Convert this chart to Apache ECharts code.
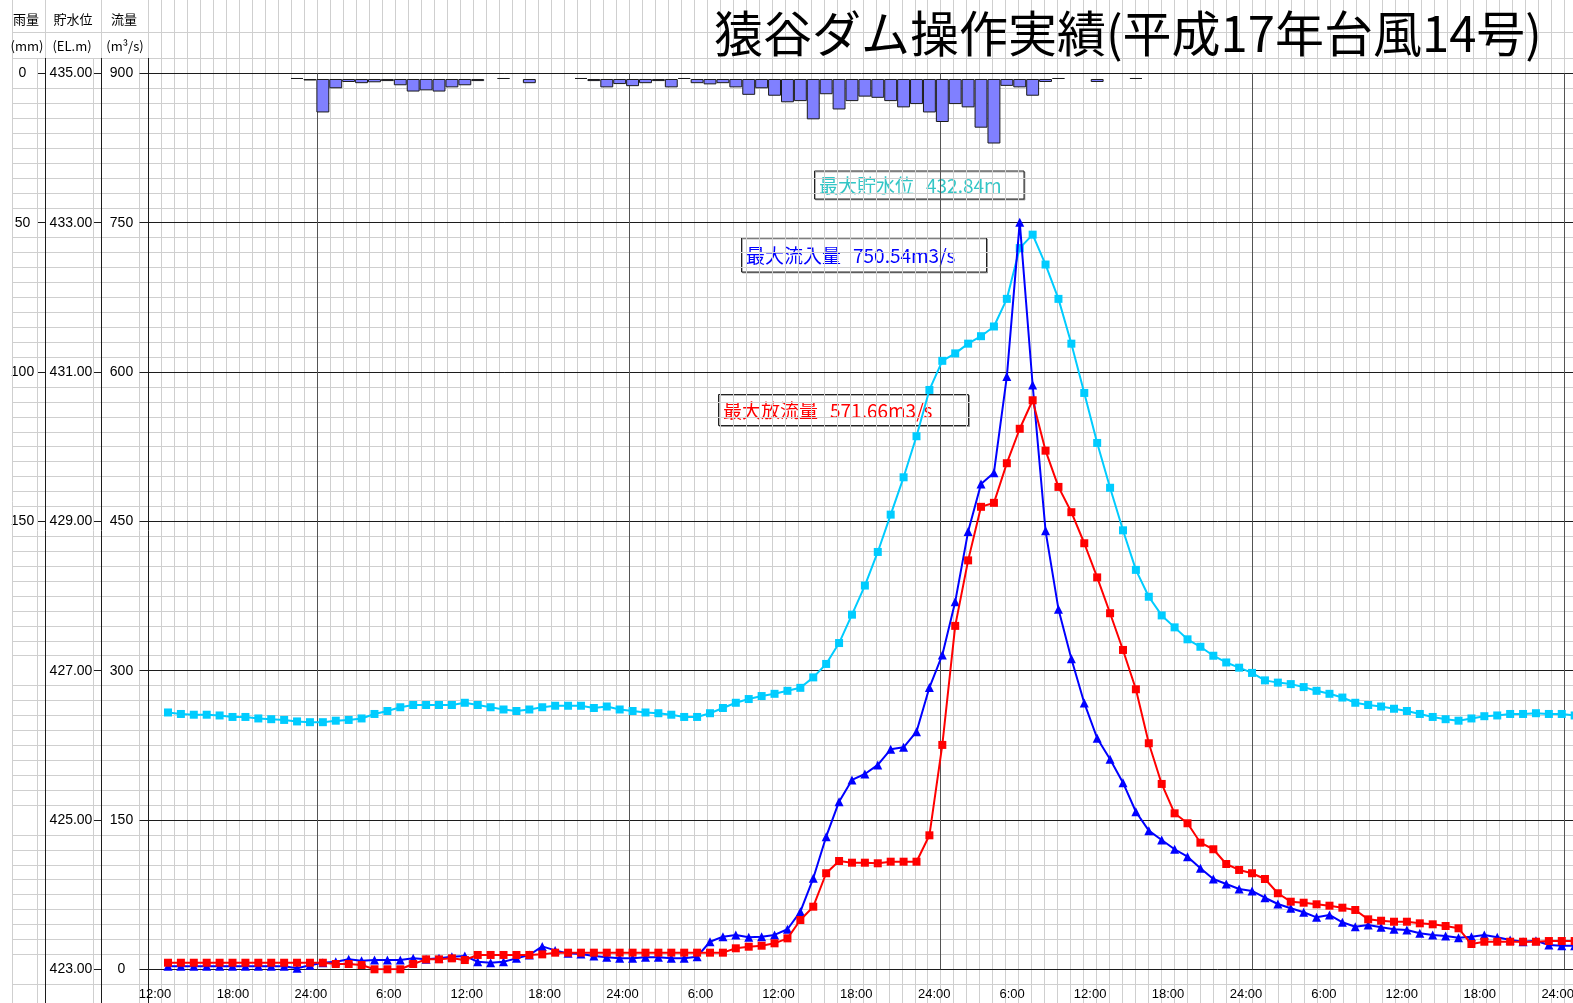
<!DOCTYPE html>
<html>
<head>
<meta charset="utf-8">
<script src="https://cdn.jsdelivr.net/npm/echarts@6/dist/echarts.min.js"></script>
<style>
  html, body { margin: 0; padding: 0; background: #fff; }
  #chart { width: 1573px; height: 1003px; }
</style>
</head>
<body>
<div id="chart"></div>
<script>
// Hourly records, hours counted from 0:00 of day 1 (first reading 13:00 on day 1)
const firstHour = 13;

// 貯水位 (EL.m)
const waterLevel = [
  426.44, 426.42, 426.41, 426.41, 426.40, 426.38, 426.38, 426.36, 426.35, 426.34,
  426.32, 426.31, 426.31, 426.33, 426.34, 426.36, 426.42, 426.46, 426.51, 426.54,
  426.54, 426.54, 426.54, 426.57, 426.54, 426.51, 426.48, 426.46, 426.48, 426.51,
  426.53, 426.53, 426.53, 426.50, 426.52, 426.48, 426.46, 426.44, 426.43, 426.41,
  426.38, 426.38, 426.43, 426.50, 426.57, 426.62, 426.66, 426.69, 426.73, 426.77,
  426.91, 427.09, 427.37, 427.75, 428.14, 428.59, 429.09, 429.59, 430.14, 430.76,
  431.15, 431.25, 431.38, 431.48, 431.61, 431.98, 432.66, 432.84, 432.44, 431.98,
  431.38, 430.72, 430.05, 429.45, 428.88, 428.35, 427.99, 427.74, 427.58, 427.42,
  427.32, 427.20, 427.11, 427.04, 426.97, 426.87, 426.84, 426.82, 426.78, 426.73,
  426.69, 426.64, 426.57, 426.54, 426.52, 426.49, 426.46, 426.42, 426.38, 426.35,
  426.33, 426.36, 426.39, 426.40, 426.42, 426.42, 426.43, 426.42, 426.42, 426.40
];

// 流入量 (m3/s)
const inflow = [
  3, 3, 3, 3, 3, 3, 3, 3, 3, 3,
  1, 4, 6.6, 7.6, 10, 8.6, 9.3, 9.3, 9.3, 11,
  10, 11, 12.7, 13.4, 7.6, 6.6, 7.6, 11, 14.4, 23,
  19, 16, 15.4, 13.4, 12, 11, 11, 12, 12, 11,
  11, 12.7, 27.7, 32.8, 34.5, 32.2, 32.8, 34.5, 40.2, 57.9,
  91.4, 133.2, 168.4, 190.2, 196.2, 205.3, 221, 223, 238.7, 283,
  315.8, 369.3, 439.7, 487.6, 498.9, 595.4, 750.54, 587, 440.5, 361.8,
  312, 267.6, 232.1, 211, 187.5, 158.3, 139.3, 129.9, 120.6, 113.1,
  101.5, 90.7, 85.7, 80.7, 78.7, 71.9, 65.6, 61.3, 57.3, 52.2,
  54.6, 47.2, 42.8, 44.5, 42.2, 40.2, 39.5, 36.2, 34.5, 33.5,
  31.7, 32.8, 34.5, 32.2, 29.4, 27.7, 28.7, 24.4, 23.7, 23.7
];

// 放流量 (m3/s)
const outflow = [
  6.6, 6.6, 6.6, 6.6, 6.6, 6.6, 6.6, 6.6, 6.6, 6.6,
  6.6, 6.6, 6.6, 5.3, 5.3, 4.3, 0, 0, 0, 5.3,
  10, 10, 11, 9.3, 14.4, 14.4, 14.4, 14.4, 14.4, 15,
  16.7, 16.7, 16.7, 16.7, 16.7, 16.7, 16.7, 16.7, 16.7, 16.7,
  16.7, 16.7, 16.7, 16.7, 21.1, 22.7, 23.7, 26.1, 31.1, 49.5,
  62.9, 96.5, 108.8, 107.1, 107.1, 106.5, 108.1, 108.1, 108.1, 134.6,
  225.4, 345, 410.8, 464.6, 468.6, 508.4, 543, 571.66, 521, 484.6,
  459.2, 428, 393.7, 357.7, 320.8, 281.3, 227.1, 186.2, 156.7, 146.7,
  127.2, 120.6, 105.8, 99.8, 96.5, 90.7, 76.4, 67.9, 66.9, 65.3,
  63.9, 61.9, 59.6, 50.2, 48.8, 47.8, 47.8, 46.2, 45.2, 43.5,
  41.2, 25.4, 27.7, 27.7, 27.7, 27.7, 27.7, 28.4, 28.4, 28.4
];

// 雨量 (mm per hour), first value for the hour ending 23:00 on day 1
const rainFirstHour = 23;
const rainfall = [
  0, 0.5, 11.2, 3.1, 1.0, 1.4, 1.1, 0.7, 2.1, 4.2,
  3.8, 4.2, 2.8, 2.1, 0.7, null, 0, null, 1.4, null,
  null, null, 0, 0.7, 2.8, 1.7, 2.4, 1.4, 0.7, 2.8,
  0, 1.4, 1.8, 1.4, 2.8, 5.3, 3.1, 5.6, 7.8, 7.4,
  13.5, 5.1, 10.2, 7.4, 5.9, 6.3, 7.4, 9.5, 8.4, 11.2,
  14.4, 8.4, 9.5, 16.3, 21.6, 2.3, 2.8, 5.6, 1.0, 0,
  null, null, 1.0, null, null, 0
];

// Hour cells of the chart paper; cell 0 is the hour ending 12:00 on day 1
const cellCount = 110;
const firstCellHour = 12;
const hourCells = Array.from({ length: cellCount }, (_, i) => {
  const hh = (firstCellHour + i) % 24;
  return (hh === 0 ? 24 : hh) + ':00';
});
const shownTimeLabels = ['6:00', '12:00', '18:00', '24:00'];

// Layout
const W = 1573, H = 1003;
const plotLeft = 148.5, plotTop = 73.4, plotBottom = 969.3;
const cellW = 12.9875;
const gridRight = W - plotLeft - cellCount * cellW;
const pxPerFlow = (plotBottom - plotTop) / 900;
const rowStep = 15 * pxPerFlow;
const timeMin = 11.49, timeMax = 122.19;        // hours at the plot edges for the readings
const rainBaseOffset = 1.875;                    // rain bars hang just below the top frame

const light = '#cfcfcf';
const dark = '#1c1c1c';
const dayLine = '#555555';
const cyan = '#00ccff';
const blue = '#0000ff';
const red = '#ff0000';
const none = 'rgba(0,0,0,0)';

const rowColors = Array.from({ length: 10 }, (_, i) => (i === 1 ? none : light));
const dayColors = Array.from({ length: 24 }, (_, i) => (i === 13 ? dayLine : none));

const numFont = '"Liberation Sans", Arial, sans-serif';
const jpFont = '"Noto Sans CJK JP", sans-serif';

const maxLevel = Math.max(...waterLevel);
const maxIn = Math.max(...inflow);
const maxOut = Math.max(...outflow);

function seg(x1, y1, x2, y2, color) {
  return {
    type: 'line', z: 1, silent: true,
    shape: { x1, y1, x2, y2 },
    style: { stroke: color, lineWidth: 1 }
  };
}
function txt(text, x, y, font, color, align) {
  return {
    type: 'text', z: 10, silent: true,
    style: {
      text, x, y, font, fill: color,
      textAlign: align || 'center', align: align || 'center',
      textVerticalAlign: 'middle', verticalAlign: 'middle'
    }
  };
}
function noteText(text, x, y, color) {
  return { type: 'text', style: { text, x, y, font: '19px ' + jpFont, fill: color,
                                  textAlign: 'left', align: 'left',
                                  textVerticalAlign: 'middle', verticalAlign: 'middle' } };
}
function box(x, y, w, h, title, value, color) {
  return {
    type: 'group', z: 20, silent: true,
    children: [
      { type: 'rect', shape: { x, y, width: w, height: h },
        style: { fill: '#fff', stroke: '#222', lineWidth: 1,
                 shadowColor: 'rgba(0,0,0,0.3)', shadowOffsetX: 1, shadowOffsetY: 1 } },
      noteText(title, x + 4.5, y + h / 2 + 0.5, color),
      noteText(value, x + 111.5, y + h / 2 + 0.5, color)
    ]
  };
}

const axisLabelStyle = { color: '#000', fontSize: 14, fontFamily: numFont };

const option = {
  animation: false,
  backgroundColor: '#fff',
  grid: [
    { left: plotLeft, right: gridRight, top: 0, bottom: 0, outerBoundsMode: 'none' },
    { left: 12, right: 0, top: plotTop - rowStep, bottom: H - (plotBottom + rowStep), outerBoundsMode: 'none' },
    { left: plotLeft, right: gridRight, top: plotTop, bottom: H - plotBottom, outerBoundsMode: 'none' },
    { left: 45, width: 1, top: plotTop, height: 150 * 3 * pxPerFlow, outerBoundsMode: 'none' }
  ],
  xAxis: [
    { gridIndex: 0, type: 'category', data: hourCells, boundaryGap: true,
      axisLine: { show: false }, axisTick: { show: false }, axisLabel: { show: false },
      splitLine: { show: true, interval: 0, lineStyle: { color: light, width: 1 } } },
    { gridIndex: 1, type: 'value', show: false, min: 0, max: 1 },
    { gridIndex: 2, type: 'category', data: hourCells, boundaryGap: true, position: 'bottom', z: 1,
      axisLine: { show: false }, axisTick: { show: false },
      axisLabel: { interval: (i, v) => shownTimeLabels.includes(v), margin: 19,
                   color: '#000', fontSize: 13, fontFamily: numFont },
      splitLine: { show: true, interval: 0, lineStyle: { color: dayColors, width: 1 } } },
    { gridIndex: 2, type: 'value', position: 'top', show: false, min: timeMin, max: timeMax },
    { gridIndex: 3, type: 'value', show: false, min: 0, max: 1 }
  ],
  yAxis: [
    { gridIndex: 0, type: 'value', show: false, min: 0, max: 1 },
    { gridIndex: 1, type: 'value', min: -15, max: 915, interval: 15,
      axisLine: { show: false }, axisTick: { show: false }, axisLabel: { show: false },
      splitLine: { show: true, lineStyle: { color: rowColors, width: 1 } } },
    { gridIndex: 2, type: 'value', position: 'left', min: 0, max: 900, interval: 150, z: 1,
      axisLine: { show: false },
      axisTick: { show: true, length: 9, lineStyle: { color: dark } },
      axisLabel: Object.assign({ margin: 27, align: 'center' }, axisLabelStyle),
      splitLine: { show: true, lineStyle: { color: dark, width: 1 } } },
    { gridIndex: 2, type: 'value', position: 'left', offset: plotLeft - 101, min: 423, max: 435, interval: 2,
      axisLine: { show: false },
      axisTick: { show: true, length: 8, lineStyle: { color: dark } },
      axisLabel: Object.assign({ margin: 30, align: 'center', formatter: v => v.toFixed(2) }, axisLabelStyle),
      splitLine: { show: false } },
    { gridIndex: 2, type: 'value', position: 'right', show: false, inverse: true,
      min: -rainBaseOffset, max: 300 - rainBaseOffset },
    { gridIndex: 3, type: 'value', position: 'left', inverse: true, min: 0, max: 150, interval: 50,
      axisLine: { show: false },
      axisTick: { show: true, length: 8, lineStyle: { color: dark } },
      axisLabel: Object.assign({ margin: 22.5, align: 'center' }, axisLabelStyle),
      splitLine: { show: false } }
  ],
  series: [
    { name: '雨量', type: 'bar', xAxisIndex: 3, yAxisIndex: 4, z: 2,
      data: rainfall.map((v, i) => [rainFirstHour + i, v]),
      barWidth: 12.9, barMinHeight: 1,
      itemStyle: { color: '#8080ff', borderColor: '#1a1a1a', borderWidth: 1 } },
    { name: '貯水位', type: 'line', xAxisIndex: 3, yAxisIndex: 3, z: 3,
      data: waterLevel.map((v, i) => [firstHour + i, v]),
      symbol: 'rect', symbolSize: 8, showSymbol: true, showAllSymbol: true,
      lineStyle: { color: cyan, width: 2 }, itemStyle: { color: cyan } },
    { name: '流入量', type: 'line', xAxisIndex: 3, yAxisIndex: 2, z: 4,
      data: inflow.map((v, i) => [firstHour + i, v]),
      symbol: 'triangle', symbolSize: 9, showSymbol: true, showAllSymbol: true,
      lineStyle: { color: blue, width: 2 }, itemStyle: { color: blue } },
    { name: '放流量', type: 'line', xAxisIndex: 3, yAxisIndex: 2, z: 5,
      data: outflow.map((v, i) => [firstHour + i, v]),
      symbol: 'rect', symbolSize: 8, showSymbol: true, showAllSymbol: true,
      lineStyle: { color: red, width: 2 }, itemStyle: { color: red } }
  ],
  graphic: [
    // table rules of the axis columns
    seg(12.5, 0, 12.5, H, light),
    seg(37.5, 58, 37.5, H, light),
    seg(93.5, 58, 93.5, H, light),
    seg(139.5, 58, 139.5, H, light),
    seg(45.5, 0, 45.5, 58, light),
    seg(101.5, 0, 101.5, 58, light),
    seg(12, 32.5, W, 32.5, light),
    seg(45.5, 58, 45.5, H, dark),
    seg(101.5, 58, 101.5, H, dark),
    seg(148.5, 58, 148.5, H, dark),
    // column headings
    txt('雨量', 26, 19, '13px ' + jpFont, '#000'),
    txt('貯水位', 73, 19, '13px ' + jpFont, '#000'),
    txt('流量', 124, 19, '13px ' + jpFont, '#000'),
    txt('(mm)', 27, 46, '13px ' + jpFont, '#000'),
    txt('(EL.m)', 72, 46, '13px ' + jpFont, '#000'),
    txt('(m³/s)', 125, 46, '13px ' + jpFont, '#000'),
    // title
    txt('猿谷ダム操作実績(平成17年台風14号)', 714, 33, '49px ' + jpFont, '#000', 'left'),
    // peak notes
    box(814.5, 171, 209.5, 28, '最大貯水位', maxLevel.toFixed(2) + 'm', '#33c6c6'),
    box(741.5, 238, 245, 34, '最大流入量', maxIn.toFixed(2) + 'm3/s', blue),
    box(718.5, 394.5, 250, 31, '最大放流量', maxOut.toFixed(2) + 'm3/s', red)
  ]
};

const chart = echarts.init(document.getElementById('chart'), null, { renderer: 'canvas' });
chart.setOption(option);
</script>
</body>
</html>
